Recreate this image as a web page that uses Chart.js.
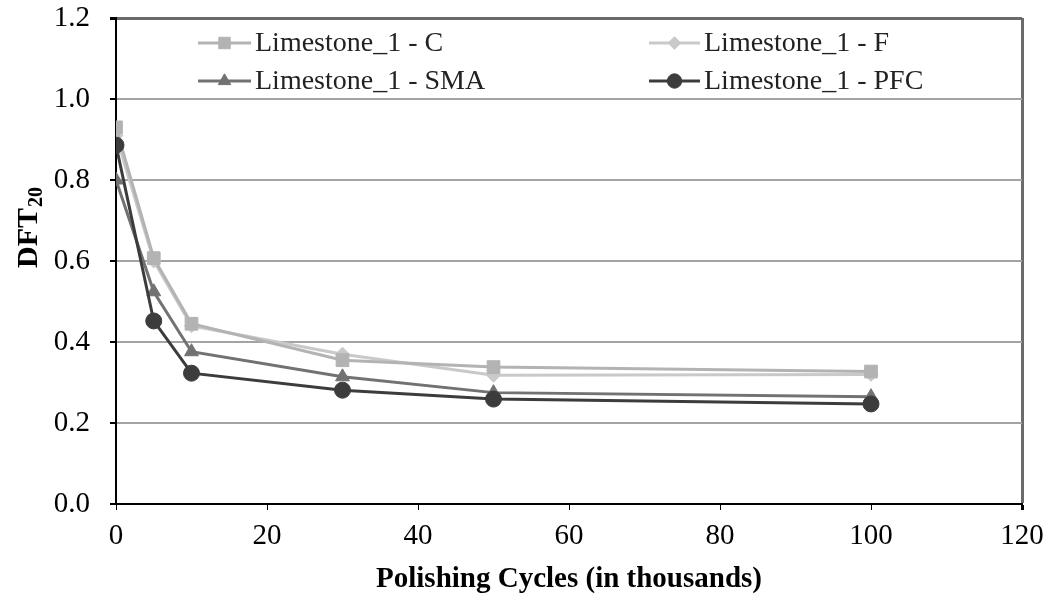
<!DOCTYPE html>
<html>
<head>
<meta charset="utf-8">
<script src="https://cdn.jsdelivr.net/npm/chart.js@4.4.1/dist/chart.umd.min.js"></script>
<style>
  html, body { margin: 0; padding: 0; background: #fff; }
  #wrap { width: 1054px; height: 601px; }
</style>
</head>
<body>
<div id="wrap"><canvas id="dftChart"></canvas></div>
<script>
// polishing cycles (thousands)
const cycles = [0, 5, 10, 30, 50, 100];

// DFT20 values
const limeC = [0.93, 0.607, 0.445, 0.355, 0.338, 0.327];
const limeF = [0.91, 0.600, 0.440, 0.370, 0.318, 0.320];
const limeSMA = [0.80, 0.524, 0.376, 0.314, 0.275, 0.265];
const limePFC = [0.886, 0.452, 0.323, 0.281, 0.259, 0.247];

const seriesNames = ["Limestone_1 - C", "Limestone_1 - F", "Limestone_1 - SMA", "Limestone_1 - PFC"];
const seriesColors = ["#b3b3b3", "#c9c9c9", "#727272", "#3c3c3c"];
const seriesMarkers = ["rect", "rectRot", "triangle", "circle"];
const markerSizes = [9, 7, 8, 8];

const serif = "'Liberation Serif', 'Times New Roman', serif";

function toPoints(values) {
  return cycles.map((c, i) => ({ x: c, y: values[i] }));
}

const allValues = [limeC, limeF, limeSMA, limePFC];
const drawOrder = [2, 3, 1, 0]; // PFC on top

const datasets = allValues.map((vals, i) => ({
  label: seriesNames[i],
  data: toPoints(vals),
  borderColor: seriesColors[i],
  backgroundColor: seriesColors[i],
  pointStyle: seriesMarkers[i],
  pointRadius: markerSizes[i],
  pointHoverRadius: markerSizes[i],
  pointBorderWidth: 1,
  borderWidth: 3,
  tension: 0,
  order: drawOrder[i],
}));

// legend in two columns, line + marker like the original
const legendPlugin = {
  id: "twoColLegend",
  afterDraw(chart) {
    const ctx = chart.ctx;
    const cols = [{ x0: 198, x1: 251 }, { x0: 649, x1: 700 }];
    const rows = [43, 81];
    ctx.save();
    chart.data.datasets.forEach((ds, i) => {
      const col = cols[i % 2];
      const y = rows[Math.floor(i / 2)];
      ctx.strokeStyle = ds.borderColor;
      ctx.fillStyle = ds.backgroundColor;
      ctx.lineWidth = 3;
      ctx.beginPath();
      ctx.moveTo(col.x0, y);
      ctx.lineTo(col.x1, y);
      ctx.stroke();
      ctx.lineWidth = 1;
      Chart.helpers.drawPoint(ctx, {
        pointStyle: ds.pointStyle,
        radius: ds.pointRadius * 0.9,
        rotation: 0,
        borderWidth: 1,
      }, (col.x0 + col.x1) / 2, y);
      ctx.fillStyle = "#222";
      ctx.font = "28px " + serif;
      ctx.textAlign = "left";
      ctx.textBaseline = "middle";
      ctx.fillText(ds.label, col.x1 + 4, y + 1);
    });
    ctx.restore();
  },
};

// y title with subscript
const yTitlePlugin = {
  id: "yTitle",
  afterDraw(chart) {
    const ctx = chart.ctx;
    ctx.save();
    ctx.translate(29, 228);
    ctx.rotate(-Math.PI / 2);
    ctx.fillStyle = "#000";
    ctx.textBaseline = "middle";
    ctx.textAlign = "left";
    ctx.font = "bold 30px " + serif;
    const main = "DFT";
    const wMain = ctx.measureText(main).width;
    ctx.font = "bold 20px " + serif;
    const wSub = ctx.measureText("20").width;
    const start = -(wMain + wSub) / 2;
    ctx.font = "bold 30px " + serif;
    ctx.fillText(main, start, 0);
    ctx.font = "bold 20px " + serif;
    ctx.fillText("20", start + wMain + 1, 8);
    ctx.restore();
  },
};

new Chart(document.getElementById("dftChart"), {
  type: "line",
  data: { datasets: datasets },
  plugins: [legendPlugin, yTitlePlugin],
  options: {
    responsive: true,
    maintainAspectRatio: false,
    animation: false,
    layout: { padding: { left: 0, right: 32, top: 18, bottom: 0 } },
    plugins: {
      legend: { display: false },
      tooltip: { enabled: false },
    },
    scales: {
      x: {
        type: "linear",
        min: 0,
        max: 120,
        ticks: {
          stepSize: 20,
          color: "#000",
          padding: 9,
          font: { family: serif, size: 29 },
        },
        grid: {
          drawOnChartArea: true,
          color: (c) => (c.tick && c.tick.value === 120 ? "#6a6a6a" : "rgba(0,0,0,0)"),
          lineWidth: (c) => (c.tick && c.tick.value === 120 ? 3 : 1),
          tickColor: "#000",
          tickLength: 6,
        },
        border: { color: "#000", width: 2 },
        title: {
          display: true,
          text: "Polishing Cycles (in thousands)",
          color: "#000",
          font: { family: serif, size: 29, weight: "bold" },
          padding: { top: 4, bottom: 4 },
        },
        afterFit: (scale) => {
          scale.height = 97;
          scale.paddingLeft = 0;
          scale.paddingRight = 0;
        },
      },
      y: {
        min: 0,
        max: 1.2,
        ticks: {
          stepSize: 0.2,
          color: "#000",
          padding: 20,
          font: { family: serif, size: 29 },
          callback: (v) => Number(v).toFixed(1),
        },
        grid: {
          color: (c) => (c.tick && Math.abs(c.tick.value - 1.2) < 1e-6 ? "#6a6a6a" : "#a3a3a3"),
          lineWidth: (c) => (c.tick && Math.abs(c.tick.value - 1.2) < 1e-6 ? 3 : 2),
          tickColor: "#000",
          tickLength: 6,
        },
        border: { color: "#000", width: 2 },
        afterFit: (scale) => {
          scale.width = 116;
          scale.paddingTop = 0;
          scale.paddingBottom = 0;
        },
      },
    },
  },
});
</script>
</body>
</html>
